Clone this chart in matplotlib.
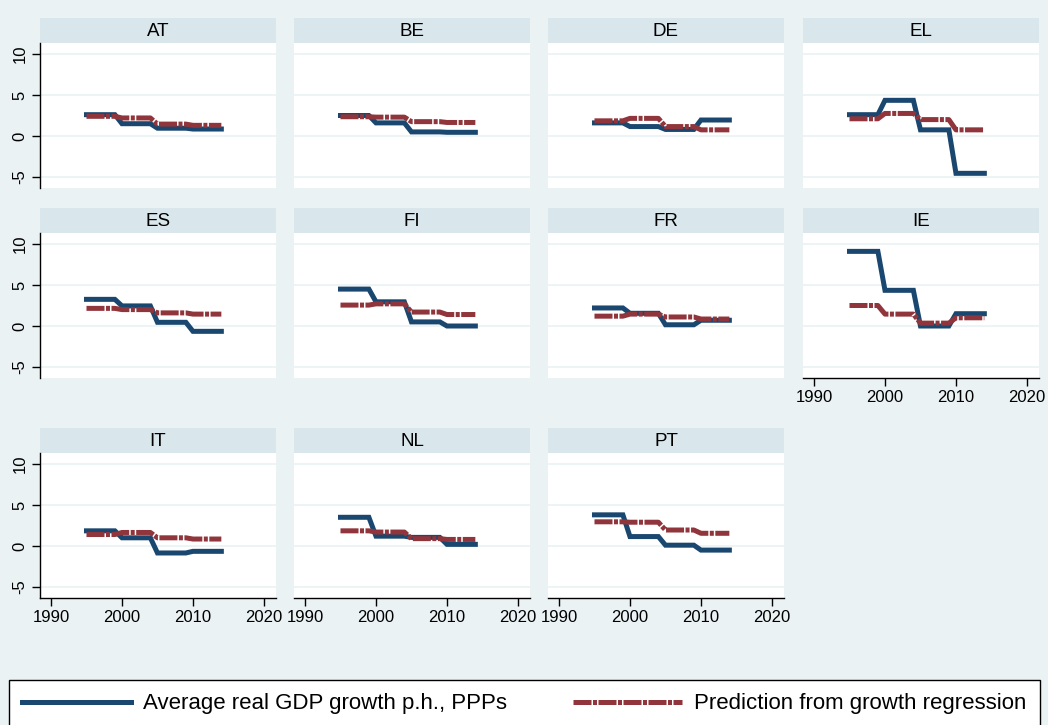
import numpy as np
import matplotlib
matplotlib.use("Agg")
import matplotlib.pyplot as plt

# ---------------- data ----------------
countries = ['AT', 'BE', 'DE', 'EL', 'ES', 'FI', 'FR', 'IE', 'IT', 'NL', 'PT']
period_years = [1995, 2000, 2005, 2010]   # 5-year periods, yearly observations
years = np.arange(1995, 2015)

# average real GDP growth per head (PPPs), per period
actual_growth = [
    [2.6, 1.5, 0.95, 0.85],    # AT
    [2.5, 1.6, 0.5, 0.45],     # BE
    [1.6, 1.15, 0.8, 1.95],    # DE
    [2.6, 4.35, 0.75, -4.55],  # EL
    [3.25, 2.45, 0.45, -0.65], # ES
    [4.5, 2.95, 0.5, 0.0],     # FI
    [2.2, 1.55, 0.15, 0.7],    # FR
    [9.1, 4.35, 0.0, 1.5],     # IE
    [1.85, 1.0, -0.85, -0.65], # IT
    [3.5, 1.2, 1.05, 0.2],     # NL
    [3.8, 1.15, 0.1, -0.5],    # PT
]
# prediction from growth regression, per period
predicted_growth = [
    [2.4, 2.2, 1.45, 1.3],     # AT
    [2.35, 2.3, 1.75, 1.65],   # BE
    [1.85, 2.15, 1.15, 0.75],  # DE
    [2.1, 2.75, 2.0, 0.75],    # EL
    [2.15, 2.0, 1.6, 1.45],    # ES
    [2.55, 2.7, 1.7, 1.4],     # FI
    [1.2, 1.45, 1.1, 0.85],    # FR
    [2.5, 1.45, 0.35, 1.0],    # IE
    [1.4, 1.65, 1.0, 0.85],    # IT
    [1.85, 1.7, 0.9, 0.8],     # NL
    [2.95, 2.9, 1.95, 1.55],   # PT
]
series_labels = ['Average real GDP growth p.h., PPPs', 'Prediction from growth regression']
x_ticks = [1990, 2000, 2010, 2020]
y_ticks = [-5, 0, 5, 10]

# ---------------- style ----------------
BG = '#eaf2f3'
STRIP = '#d9e6eb'
NAVY = '#1a476f'
MAROON = '#90353b'
W, H = 1048, 725

plt.rcParams['font.family'] = ['Liberation Sans', 'DejaVu Sans']

fig = plt.figure(figsize=(W / 100, H / 100), dpi=100, facecolor=BG)

col_left = [40, 294, 548, 803]
row_top = [43, 233, 453]
pw, ph, sh = 236, 145, 25

def fa(x, y, w, h):
    return [x / W, 1 - (y + h) / H, w / W, h / H]

handles = None
for i, c in enumerate(countries):
    r, k = divmod(i, 4)
    x0, y0 = col_left[k], row_top[r]
    # strip
    sax = fig.add_axes(fa(x0, y0 - sh, pw, sh))
    sax.set_facecolor(STRIP)
    sax.set_xticks([]); sax.set_yticks([])
    for s in sax.spines.values():
        s.set_visible(False)
    sax.text(0.5, 0.47, c, ha='center', va='center', fontsize=13.5, color='black',
             transform=sax.transAxes)

    ax = fig.add_axes(fa(x0, y0, pw, ph))
    ax.set_facecolor('white')
    ax.set_xlim(1988.45, 2021.7)
    ax.set_ylim(-6.34, 11.34)
    for yv in y_ticks:
        ax.axhline(yv, color=BG, lw=1.2, zorder=0)
    l1, = ax.plot(years, np.repeat(actual_growth[i], 5), color=NAVY, lw=3.6,
                  solid_joinstyle='miter', zorder=2, label=series_labels[0])
    l2, = ax.plot(years, np.repeat(predicted_growth[i], 5), color=MAROON, lw=3.6,
                  dashes=(3.6, 0.3, 0.8, 0.3), zorder=3, label=series_labels[1])
    if handles is None:
        handles = [l1, l2]
    for s in ax.spines.values():
        s.set_visible(False)

    show_x = (r == 2) or (c == 'IE')
    show_y = (k == 0)
    if show_x:
        ax.spines['bottom'].set_visible(True)
        ax.spines['bottom'].set_color('black')
        ax.spines['bottom'].set_linewidth(1.0)
        ax.set_xticks(x_ticks)
        ax.set_xticklabels([str(t) for t in x_ticks])
        ax.tick_params(axis='x', length=6, width=1, labelsize=12, pad=3, colors='black')
    else:
        ax.set_xticks([])
    if show_y:
        ax.spines['left'].set_visible(True)
        ax.spines['left'].set_color('black')
        ax.spines['left'].set_linewidth(1.0)
        ax.set_yticks(y_ticks)
        ax.set_yticklabels([str(t) for t in y_ticks], rotation=90, va='center')
        ax.tick_params(axis='y', length=6, width=1, labelsize=12, pad=3, colors='black')
    else:
        ax.set_yticks([])

leg = fig.legend(handles, series_labels, ncol=2, loc='center',
                 bbox_to_anchor=(9 / W, 1 - 731 / H, 1031 / W, 54 / H), mode='expand',
                 frameon=True, fancybox=False, edgecolor='black', facecolor='white',
                 framealpha=1, handlelength=4.9, handletextpad=0.55, borderaxespad=0,
                 borderpad=0.6, columnspacing=1.8,
                 prop={'family': ['Liberation Sans', 'DejaVu Sans'], 'size': 16})
leg.get_frame().set_linewidth(1.0)

fig.savefig('out.png', dpi=100, facecolor=BG)
